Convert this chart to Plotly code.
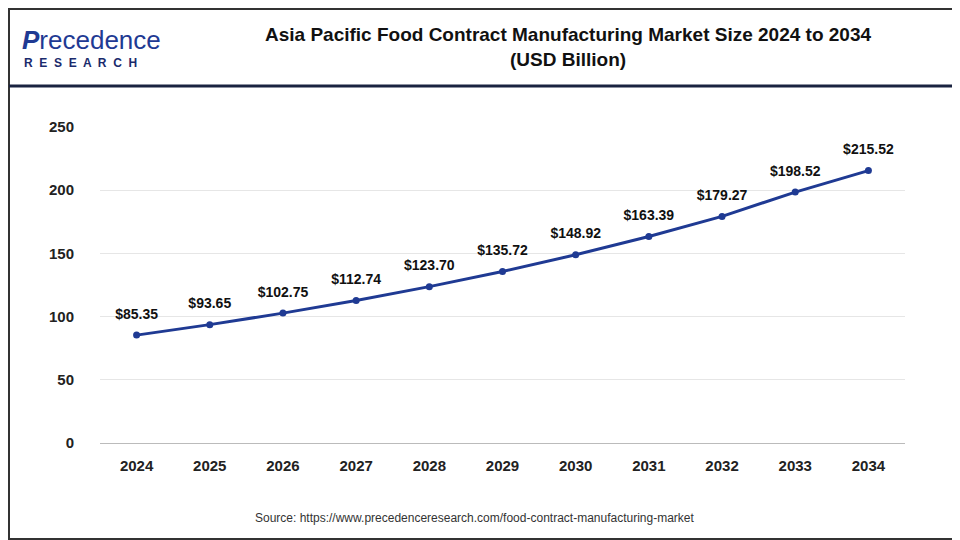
import plotly.graph_objects as go

years = ["2024", "2025", "2026", "2027", "2028", "2029", "2030", "2031", "2032", "2033", "2034"]
values = [85.35, 93.65, 102.75, 112.74, 123.70, 135.72, 148.92, 163.39, 179.27, 198.52, 215.52]
labels = ["<b>$%.2f</b>" % v for v in values]

fig = go.Figure()
fig.add_trace(go.Scatter(
    x=years, y=values, mode="lines+markers",
    line=dict(color="#1f3a93", width=3),
    marker=dict(color="#1f3a93", size=7),
))
# labels: transparent larger marker pushes text up a little
fig.add_trace(go.Scatter(
    x=years, y=values, mode="markers+text",
    marker=dict(color="rgba(0,0,0,0)", size=19),
    text=labels, textposition="top center",
    textfont=dict(family="Arial", size=14, color="#111"),
    cliponaxis=False, hoverinfo="skip",
))

tick_font = dict(size=15, color="#222", family="Arial", weight="bold")

fig.update_layout(
    width=952, height=532,
    paper_bgcolor="white", plot_bgcolor="white",
    margin=dict(l=92, r=55, t=119, b=97),
    showlegend=False,
    font=dict(family="Arial"),
    xaxis=dict(showgrid=False, showline=True, linecolor="#bbb",
               ticks="outside", ticklen=9, tickcolor="rgba(0,0,0,0)",
               tickfont=tick_font, range=[-0.5, 10.5]),
    yaxis=dict(range=[0, 250], dtick=50, showgrid=True, gridcolor="#e6e6e6",
               zeroline=False, ticks="", ticksuffix="      ", tickfont=tick_font),
    shapes=[
        # outer border
        dict(type="rect", xref="paper", yref="paper",
             xsizemode="pixel", ysizemode="pixel", xanchor=0, yanchor=0,
             x0=-91, x1=859, y0=-96, y1=434,
             line=dict(color="#333", width=2), layer="above"),
        # header separator
        dict(type="line", xref="paper", yref="paper",
             xsizemode="pixel", ysizemode="pixel", xanchor=0, yanchor=0,
             x0=-91, x1=859, y0=357, y1=357,
             line=dict(color="#1a2340", width=3)),
    ],
    annotations=[
        dict(text="<b>Asia Pacific Food Contract Manufacturing Market Size 2024 to 2034<br>(USD Billion)</b>",
             xref="paper", yref="paper", x=0.581, y=1.0, yshift=105, yanchor="top", showarrow=False,
             font=dict(size=19, color="#111", family="Arial")),
        dict(text="<i><b>P</b></i>recedence", xref="paper", yref="paper", x=0, xshift=-80, y=1.0, yshift=104,
             xanchor="left", yanchor="top", showarrow=False,
             font=dict(size=26, color="#1f3a93", family="Arial")),
        dict(text="<b>R  E  S  E  A  R  C  H</b>", xref="paper", yref="paper", x=0, xshift=-78, y=1.0, yshift=73,
             xanchor="left", yanchor="top", showarrow=False,
             font=dict(size=12, color="#1a2a6c", family="Arial")),
        dict(text="Source: https://www.precedenceresearch.com/food-contract-manufacturing-market",
             xref="paper", yref="paper", x=0.466, y=0, yshift=-84, yanchor="bottom", showarrow=False,
             font=dict(size=12, color="#333", family="Arial")),
    ],
)
fig.write_html("out.html")
